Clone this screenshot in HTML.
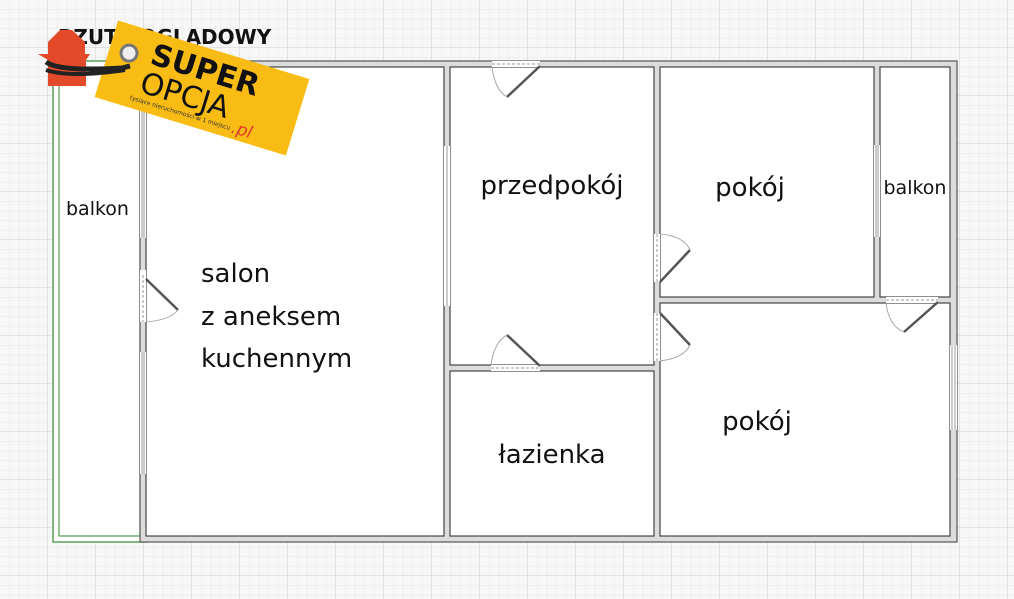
<!DOCTYPE html>
<html><head><meta charset="utf-8"><style>
html,body{margin:0;padding:0;background:#fff}
svg{display:block}
text{font-family:"DejaVu Sans","Liberation Sans",sans-serif}
</style></head><body>
<svg width="1014" height="599" viewBox="0 0 1014 599" xmlns="http://www.w3.org/2000/svg">
<defs>
<pattern id="g" width="9.6" height="9.6" patternUnits="userSpaceOnUse"><path d="M9.6 0V9.6H0" fill="none" stroke="#e6e6e6" stroke-width="1"/></pattern>
<pattern id="G" width="48" height="48" patternUnits="userSpaceOnUse"><path d="M48 0V48H0" fill="none" stroke="#d6d6d6" stroke-width="1.2"/></pattern>
</defs>
<rect width="1014" height="599" fill="#f7f7f7"/>
<rect width="1014" height="599" fill="url(#g)"/>
<rect width="1014" height="599" fill="url(#G)"/>
<rect x="53" y="61" width="93" height="481" fill="#fff" stroke="#4f9a4f" stroke-width="1.4"/>
<rect x="59" y="67" width="81" height="469" fill="#fff" stroke="#4f9a4f" stroke-width="1.2"/>
<rect x="140" y="61" width="817" height="481" fill="#dcdcdc" stroke="#555" stroke-width="1.2"/>
<g fill="#fff" stroke="#444" stroke-width="1.2">
<rect x="146" y="67" width="298" height="469"/>
<rect x="450" y="67" width="204" height="298"/>
<rect x="450" y="371" width="204" height="165"/>
<rect x="660" y="67" width="214" height="230"/>
<rect x="880" y="67" width="70" height="230"/>
<rect x="660" y="303" width="290" height="233"/>
</g>
<g fill="#fff" stroke="none">
<rect x="140" y="68" width="6" height="170"/>
<rect x="140" y="352" width="6" height="122"/>
<rect x="444" y="146" width="6" height="160"/>
<rect x="874" y="145" width="6" height="92"/>
<rect x="950" y="345" width="7" height="85"/>
<rect x="492" y="61" width="48" height="6"/>
<rect x="654" y="234" width="6" height="48"/>
<rect x="654" y="313" width="6" height="48"/>
<rect x="491" y="365" width="49" height="6"/>
<rect x="886" y="297" width="52" height="6"/>
<rect x="140" y="270" width="6" height="52"/>
</g>
<g stroke="#999" stroke-width="1" fill="none">
<line x1="142" y1="68" x2="142" y2="238"/><line x1="144" y1="68" x2="144" y2="238"/>
<line x1="142" y1="352" x2="142" y2="474"/><line x1="144" y1="352" x2="144" y2="474"/>
<line x1="447" y1="146" x2="447" y2="306"/>
<line x1="876" y1="145" x2="876" y2="237"/><line x1="878" y1="145" x2="878" y2="237"/>
<line x1="952" y1="345" x2="952" y2="430"/><line x1="955" y1="345" x2="955" y2="430"/>
<line x1="492" y1="64" x2="540" y2="64" stroke-dasharray="3 2"/>
<line x1="657" y1="234" x2="657" y2="282" stroke-dasharray="3 2"/>
<line x1="657" y1="313" x2="657" y2="361" stroke-dasharray="3 2"/>
<line x1="491" y1="368" x2="540" y2="368" stroke-dasharray="3 2"/>
<line x1="886" y1="300" x2="938" y2="300" stroke-dasharray="3 2"/>
<line x1="143" y1="275" x2="143" y2="322" stroke-dasharray="3 2"/>
</g>
<g stroke="#555" stroke-width="2.5" fill="none">
<line x1="540" y1="66" x2="507" y2="97"/>
<line x1="660" y1="282" x2="690" y2="250"/>
<line x1="660" y1="313" x2="690" y2="345"/>
<line x1="540" y1="366" x2="507" y2="335"/>
<line x1="938" y1="302" x2="904" y2="332"/>
<line x1="146" y1="279" x2="178" y2="310"/>
</g>
<g stroke="#aaa" stroke-width="1" fill="none">
<path d="M492 67 Q495 90 507 97"/>
<path d="M660 234 Q684 236 690 250"/>
<path d="M660 361 Q684 358 690 345"/>
<path d="M491 365 Q494 342 507 335"/>
<path d="M886 303 Q889 326 904 332"/>
<path d="M146 322 Q170 320 178 310"/>
</g>
<g fill="#111">
<text x="66" y="215" font-size="19">balkon</text>
<text x="201" y="282" font-size="26">salon</text>
<text x="201" y="325" font-size="26">z aneksem</text>
<text x="201" y="367" font-size="26">kuchennym</text>
<text x="552" y="194" font-size="26" text-anchor="middle">przedpokój</text>
<text x="750" y="196" font-size="26" text-anchor="middle">pokój</text>
<text x="915" y="194" font-size="19" text-anchor="middle">balkon</text>
<text x="552" y="463" font-size="26" text-anchor="middle">łazienka</text>
<text x="757" y="430" font-size="26" text-anchor="middle">pokój</text>
<text x="58" y="44" font-size="20" font-weight="bold" font-family="Liberation Sans">RZUT POGLĄDOWY</text>
</g>
<path d="M38 54 L48 54 L48 42 L60 30 L72 30 L85 42 L85 54 L90 54 L86 60 L86 86 L48 86 L48 60 Z" fill="#e24a2a"/>
<g transform="translate(202,88) rotate(17)">
<rect x="-100" y="-40" width="200" height="80" fill="#f9bc15"/>
<circle cx="-80" cy="-12" r="8" fill="#eee" stroke="#777" stroke-width="3"/>
<text x="-58" y="-8" font-size="30" font-weight="bold" fill="#111" font-family="Liberation Sans">SUPER</text>
<text x="-60" y="22" font-size="30" fill="#111" font-family="Liberation Sans">OPCJA</text>
<text x="-66" y="32" font-size="6" fill="#333">tysiące nieruchomości w 1 miejscu</text>
<text x="40" y="34" font-size="17" font-style="italic" fill="#e23a2a">.pl</text>
</g>
<path d="M46 62 Q60 72 122 68 L130 66" stroke="#222" stroke-width="5" fill="none"/>
<path d="M46 70 Q70 78 125 70" stroke="#222" stroke-width="4" fill="none"/>
</svg>
</body></html>
